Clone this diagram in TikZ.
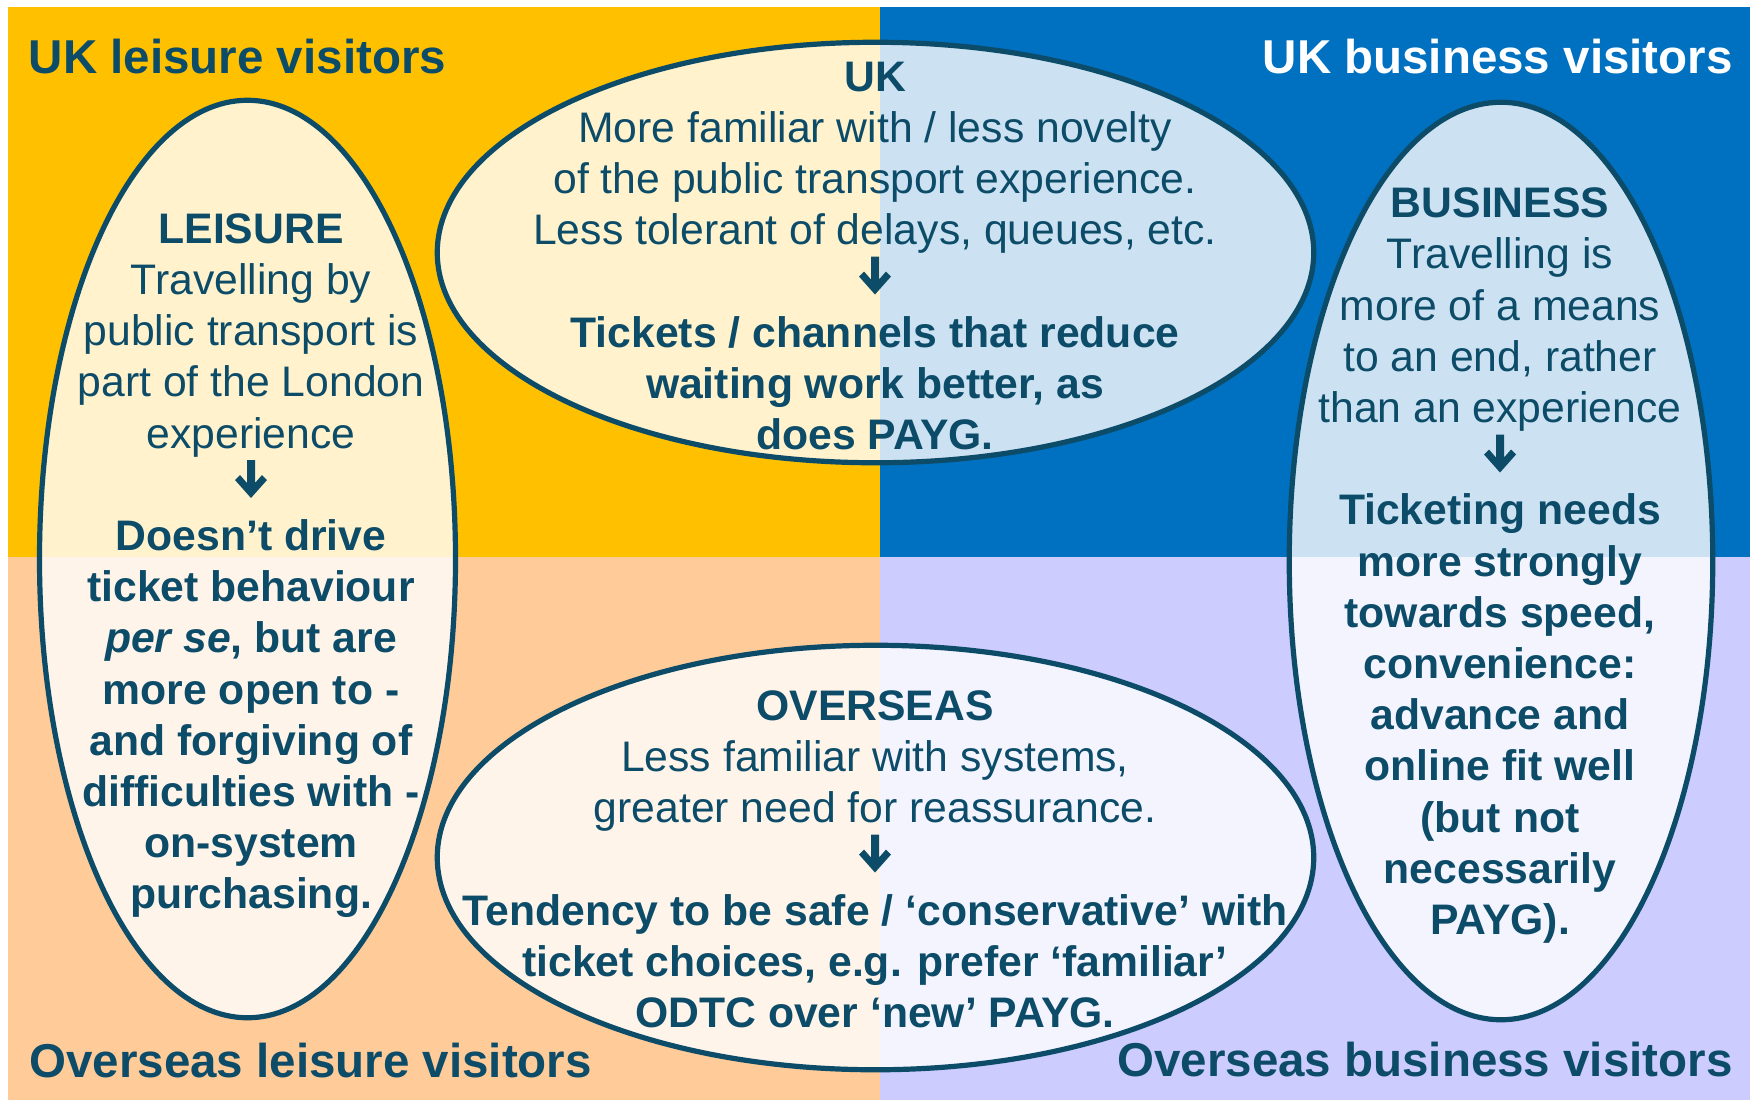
\documentclass[tikz,border=0pt]{standalone}
\usepackage{fontspec}
\setmainfont{Liberation Sans}
\usetikzlibrary{shapes.geometric}

\definecolor{ink}{RGB}{12,76,104}
\definecolor{goldq}{RGB}{255,192,0}
\definecolor{blueq}{RGB}{0,112,192}
\definecolor{peachq}{RGB}{255,204,153}
\definecolor{lilacq}{RGB}{204,204,255}

\begin{document}
\begin{tikzpicture}[x=0.5pt,y=-0.5pt,
  bubble/.style={ellipse, draw=ink, line width=2.6pt, fill=white, fill opacity=0.8, inner sep=0pt, outer sep=0pt},
  body/.style={text=ink, align=center, inner sep=0pt, anchor=north,
    font=\fontsize{21.35pt}{25.6pt}\selectfont},
  boldbody/.style={body, font=\fontsize{21.35pt}{25.6pt}\selectfont\bfseries},
  corner/.style={inner sep=0pt, font=\fontsize{23.75pt}{28pt}\selectfont\bfseries},
  downarrow/.style={fill=ink},
]
\useasboundingbox (0,0) rectangle (1750,1100);

% four quadrants
\fill[white] (0,0) rectangle (1750,1100);
\fill[goldq]  (8,7)     rectangle (880,557);
\fill[blueq]  (880,7)   rectangle (1750,557);
\fill[peachq] (8,557)   rectangle (880,1100);
\fill[lilacq] (880,557) rectangle (1750,1100);

% quadrant headings
\node[corner, text=ink, anchor=base west]   (ukl) at (28.5,73)  {UK leisure visitors};
\node[corner, text=white, anchor=base east] (ukb) at (1733,73.5) {UK business visitors};
\node[corner, text=ink, anchor=base west]   (osl) at (29,1077)  {Overseas leisure visitors};
\node[corner, text=ink, anchor=base east]   (osb) at (1733,1076) {Overseas business visitors};

% the four ellipses
\node[bubble, minimum width=208pt,    minimum height=458.75pt] (leisure)  at (247.5,559) {};
\node[bubble, minimum width=211.75pt, minimum height=458.75pt] (business) at (1501,561) {};
\node[bubble, minimum width=438.25pt, minimum height=210.25pt] (uk)       at (875.5,252.5) {};
\node[bubble, minimum width=438.25pt, minimum height=212.25pt] (overseas) at (875.5,857.5) {};

% LEISURE
\node[body] (lei-up) at (251,207) {\strut\textbf{LEISURE}\\Travelling by\\public transport is\\part of the London\\experience};
\node[boldbody] (lei-dn) at (251,514.2)
  {\strut Doesn’t drive\\ticket behaviour\\\textit{per se}, but are\\more open to -\\and forgiving of\\difficulties with -\\on-system\\purchasing.};
\coordinate (lei-arr) at (251,460);

% UK
\node[body] (uk-up) at (875,55) {\strut\textbf{UK}\\More familiar with / less novelty\\of the public transport experience.\\Less tolerant of delays, queues, etc.};
\node[boldbody] (uk-dn) at (875,311)
  {\strut Tickets / channels that reduce\\waiting work better, as\\does PAYG.};
\coordinate (uk-arr) at (875,256.5);

% OVERSEAS
\node[body] (os-up) at (875,684) {\strut\textbf{OVERSEAS}\\Less familiar with systems,\\greater need for reassurance.};
\node[boldbody] (os-dn) at (875,888.8)
  {\strut Tendency to be safe / ‘conservative’ with\\ticket choices, e.g. prefer ‘familiar’\\ODTC over ‘new’ PAYG.};
\coordinate (os-arr) at (875,834.5);

% BUSINESS
\node[body] (bus-up) at (1500,181.5) {\strut\textbf{BUSINESS}\\Travelling is\\more of a means\\to an end, rather\\than an experience};
\node[boldbody] (bus-dn) at (1500,488.7)
  {\strut Ticketing needs\\more strongly\\towards speed,\\convenience:\\advance and\\online fit well\\(but not\\necessarily\\PAYG).};
\coordinate (bus-arr) at (1500,434.5);

% thick down arrows between the two halves of each text
\foreach \a in {lei-arr,uk-arr,os-arr,bus-arr}{
  \fill[downarrow] (\a) ++(-4,0) -- ++(8,0) -- ++(0,23) -- ++(7,-8) -- ++(5,5)
    -- ++(-16,18) -- ++(-16,-18) -- ++(5,-5) -- ++(7,8) -- cycle;
}
\end{tikzpicture}
\end{document}
